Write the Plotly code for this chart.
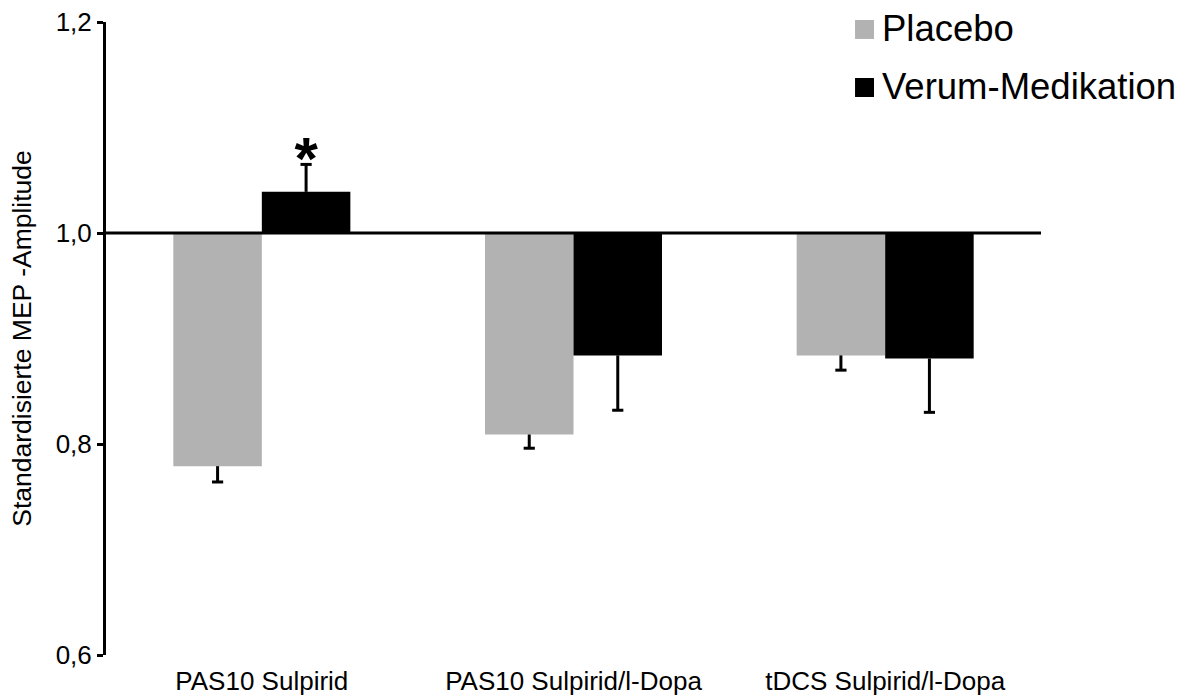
import plotly.graph_objects as go

# ---- data ----
categories = ["PAS10 Sulpirid", "PAS10 Sulpirid/l-Dopa", "tDCS Sulpirid/l-Dopa"]
placebo_mean = [0.779, 0.809, 0.884]
placebo_sem = [0.015, 0.013, 0.014]
verum_mean = [1.039, 0.884, 0.881]
verum_sem = [0.026, 0.052, 0.051]
verum_sig = ["*", "", ""]
series_names = ["Placebo", "Verum-Medikation"]
baseline = 1.0
y_ticks = [0.6, 0.8, 1.0, 1.2]

FONT = "Arial, 'Liberation Sans', sans-serif"
GRAY = "#b2b2b2"
BLACK = "#000000"


def rel(means):
    return [m - baseline for m in means]


def err_up(means, sems):
    return [s if m >= baseline else 0 for m, s in zip(means, sems)]


def err_down(means, sems):
    return [s if m < baseline else 0 for m, s in zip(means, sems)]


def err_end(means, sems):
    return [m + s if m >= baseline else m - s for m, s in zip(means, sems)]


fig = go.Figure()

series = [
    (series_names[0], placebo_mean, placebo_sem, GRAY, "p"),
    (series_names[1], verum_mean, verum_sem, BLACK, "v"),
]

for name, means, sems, color, grp in series:
    fig.add_trace(go.Bar(
        x=categories, y=rel(means), base=baseline, name=name,
        marker=dict(color=color, line=dict(width=0)),
        offsetgroup=grp, alignmentgroup="a",
        error_y=dict(type="data", symmetric=False,
                     array=err_up(means, sems), arrayminus=err_down(means, sems),
                     width=0, thickness=3, color=BLACK),
        showlegend=False, hoverinfo="skip",
    ))

# error-bar caps only at the outer end (as in the reference)
for name, means, sems, color, grp in series:
    fig.add_trace(go.Scatter(
        x=categories, y=err_end(means, sems), name=name + " SE",
        mode="markers",
        marker=dict(symbol="line-ew", size=8, color=BLACK,
                    line=dict(width=3, color=BLACK)),
        offsetgroup=grp, alignmentgroup="a",
        showlegend=False, hoverinfo="skip", cliponaxis=False,
    ))

# significance star above the Verum error bar
fig.add_trace(go.Scatter(
    x=categories, y=err_end(verum_mean, verum_sem),
    mode="text", text=verum_sig, textposition="middle center",
    textfont=dict(size=60, color=BLACK, family=FONT, weight="bold"),
    offsetgroup="v", alignmentgroup="a",
    showlegend=False, hoverinfo="skip", cliponaxis=False,
))

# baseline (horizontal axis crossing at 1,0)
fig.add_shape(type="line", xref="paper", yref="y", x0=0, x1=1,
              y0=baseline, y1=baseline, line=dict(color=BLACK, width=3),
              layer="above")

# custom legend (large square swatches like the reference)
legend_colors = [GRAY, BLACK]
legend_y = [0.9882, 0.8965]
sw_x0, sw_x1, sw_h = 0.8011, 0.8214, 0.030
for nm, col, yc in zip(series_names, legend_colors, legend_y):
    fig.add_shape(type="rect", xref="paper", yref="paper",
                  x0=sw_x0, x1=sw_x1, y0=yc - sw_h / 2, y1=yc + sw_h / 2,
                  fillcolor=col, line=dict(width=0))
    fig.add_annotation(text=nm, xref="paper", yref="paper", x=0.828, y=yc,
                       xanchor="left", yanchor="middle", showarrow=False,
                       yshift=1,
                       font=dict(size=36.5, color=BLACK, family=FONT))

fig.update_layout(
    width=1193, height=700,
    margin=dict(l=106, r=152, t=22, b=45),
    plot_bgcolor="white", paper_bgcolor="white",
    barmode="group", bargap=0.432, bargroupgap=0,
    scattermode="group", scattergap=0.432,
    separators=",.",
    font=dict(family=FONT, color=BLACK),
    showlegend=False,
    xaxis=dict(range=[-0.5, 2.5], showline=False, ticks="", showgrid=False,
               zeroline=False, tickfont=dict(size=26, color=BLACK),
               ticklabelstandoff=8, automargin=False),
    yaxis=dict(range=[0.6, 1.2], tickvals=y_ticks, tickformat=".1f",
               showline=True, linewidth=3, linecolor=BLACK,
               ticks="outside", ticklen=6, tickwidth=3, tickcolor=BLACK,
               showgrid=False, zeroline=False, automargin=False,
               tickfont=dict(size=26, color=BLACK),
               title=dict(text="Standardisierte MEP -Amplitude",
                          font=dict(size=26.5, color=BLACK), standoff=17)),
)

fig.write_html("out.html", config={"displayModeBar": False},
               post_script="document.body.style.margin='0';")
